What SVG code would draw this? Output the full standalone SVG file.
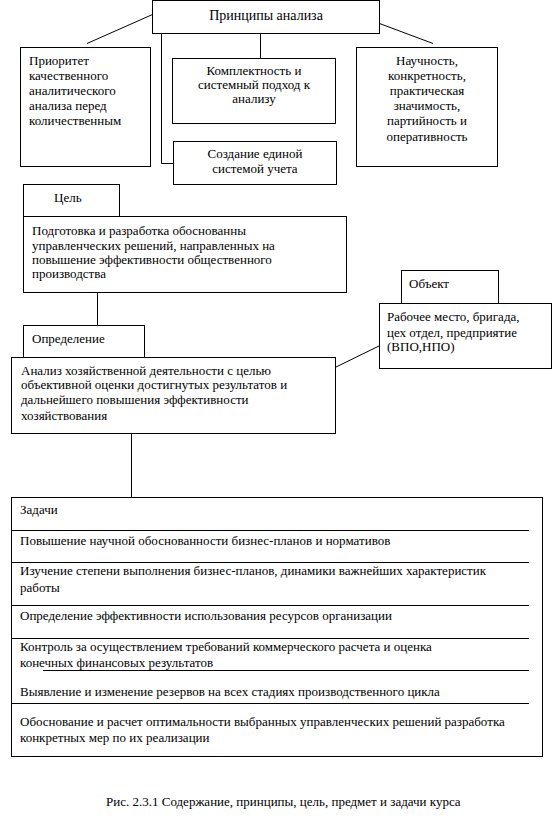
<svg xmlns="http://www.w3.org/2000/svg" width="553" height="834" viewBox="0 0 553 834">
<style>
rect{fill:#fff;stroke:#000;stroke-width:1}
line,polyline{stroke:#000;stroke-width:1;fill:none}
text{font-family:"Liberation Serif","Times New Roman",serif;font-size:13px;fill:#000}
.c{text-anchor:middle}
.b{font-size:14px}
</style>
<rect x="0" y="0" width="553" height="834" style="stroke:none"/>
<g id="connectors">
<line x1="152.5" y1="14.5" x2="87" y2="43.5"/>
<line x1="379.5" y1="23.5" x2="433" y2="43.5"/>
<polyline points="161.5,33 161.5,163.5 173,163.5"/>
<line x1="260.5" y1="33" x2="260.5" y2="58"/>
<line x1="97.5" y1="292" x2="97.5" y2="325"/>
<line x1="131.5" y1="433" x2="131.5" y2="497"/>
<line x1="336" y1="367" x2="379" y2="346"/>
</g>
<g id="principles">
<rect x="152.5" y="0.5" width="227" height="33"/>
<text class="c b" x="266" y="20">Принципы анализа</text>
</g>
<g id="priority">
<rect x="20.5" y="47.5" width="130" height="119"/>
<text x="29" y="65">Приоритет</text>
<text x="29" y="80">качественного</text>
<text x="29" y="95">аналитического</text>
<text x="29" y="110">анализа перед</text>
<text x="29" y="125">количественным</text>
</g>
<g id="complex">
<rect x="172.5" y="58.5" width="163" height="65"/>
<text class="c" x="254" y="75">Комплектность и</text>
<text class="c" x="254" y="89">системный подход к</text>
<text class="c" x="254" y="103">анализу</text>
</g>
<g id="unified">
<rect x="173.5" y="141.5" width="163" height="43"/>
<text class="c" x="255" y="158">Создание единой</text>
<text class="c" x="255" y="173">системой учета</text>
</g>
<g id="scientific">
<rect x="356.5" y="47.5" width="141" height="119"/>
<text class="c" x="427" y="65">Научность,</text>
<text class="c" x="427" y="80">конкретность,</text>
<text class="c" x="427" y="95">практическая</text>
<text class="c" x="427" y="110">значимость,</text>
<text class="c" x="427" y="125">партийность и</text>
<text class="c" x="427" y="141">оперативность</text>
</g>
<g id="goal">
<rect x="23.5" y="184.5" width="96" height="32"/>
<text x="54" y="202">Цель</text>
</g>
<g id="goal-text">
<rect x="23.5" y="216.5" width="323" height="76"/>
<text x="32" y="235">Подготовка и разработка обоснованны</text>
<text x="32" y="250">управленческих решений, направленных на</text>
<text x="32" y="264">повышение эффективности общественного</text>
<text x="32" y="278">производства</text>
</g>
<g id="object">
<rect x="401.5" y="270.5" width="97" height="33"/>
<text x="409" y="288">Объект</text>
</g>
<g id="object-text">
<rect x="379.5" y="303.5" width="172" height="65"/>
<text x="387" y="321">Рабочее место, бригада,</text>
<text x="387" y="337">цех отдел, предприятие</text>
<text x="387" y="351">(ВПО,НПО)</text>
</g>
<g id="definition">
<rect x="23.5" y="325.5" width="121" height="32"/>
<text x="32" y="343">Определение</text>
</g>
<g id="definition-text">
<rect x="11.5" y="357.5" width="324" height="76"/>
<text x="21" y="375">Анализ хозяйственной деятельности с целью</text>
<text x="21" y="389">объективной оценки достигнутых результатов и</text>
<text x="21" y="404">дальнейшего повышения эффективности</text>
<text x="21" y="420">хозяйствования</text>
</g>
<g id="tasks">
<rect x="11.5" y="497.5" width="531" height="259"/>
<line x1="11" y1="530.5" x2="529" y2="530.5"/>
<line x1="11" y1="562.5" x2="529" y2="562.5"/>
<line x1="11" y1="605.5" x2="529" y2="605.5"/>
<line x1="11" y1="638.5" x2="529" y2="638.5"/>
<line x1="43" y1="670.5" x2="529" y2="670.5"/>
<line x1="11" y1="703.5" x2="529" y2="703.5"/>
<text x="20" y="514">Задачи</text>
<text x="20" y="545">Повышение научной обоснованности бизнес-планов и нормативов</text>
<text x="20" y="575">Изучение степени выполнения бизнес-планов, динамики важнейших характеристик</text>
<text x="20" y="592">работы</text>
<text x="20" y="620">Определение эффективности использования ресурсов организации</text>
<text x="20" y="651">Контроль за осуществлением требований коммерческого расчета и оценка</text>
<text x="20" y="667">конечных финансовых результатов</text>
<text x="20" y="696">Выявление и изменение резервов на всех стадиях производственного цикла</text>
<text x="20" y="726">Обоснование и расчет оптимальности выбранных управленческих решений разработка</text>
<text x="20" y="742">конкретных мер по их реализации</text>
</g>
<text id="caption" x="106" y="806">Рис. 2.3.1 Содержание, принципы, цель, предмет и задачи курса</text>
</svg>
